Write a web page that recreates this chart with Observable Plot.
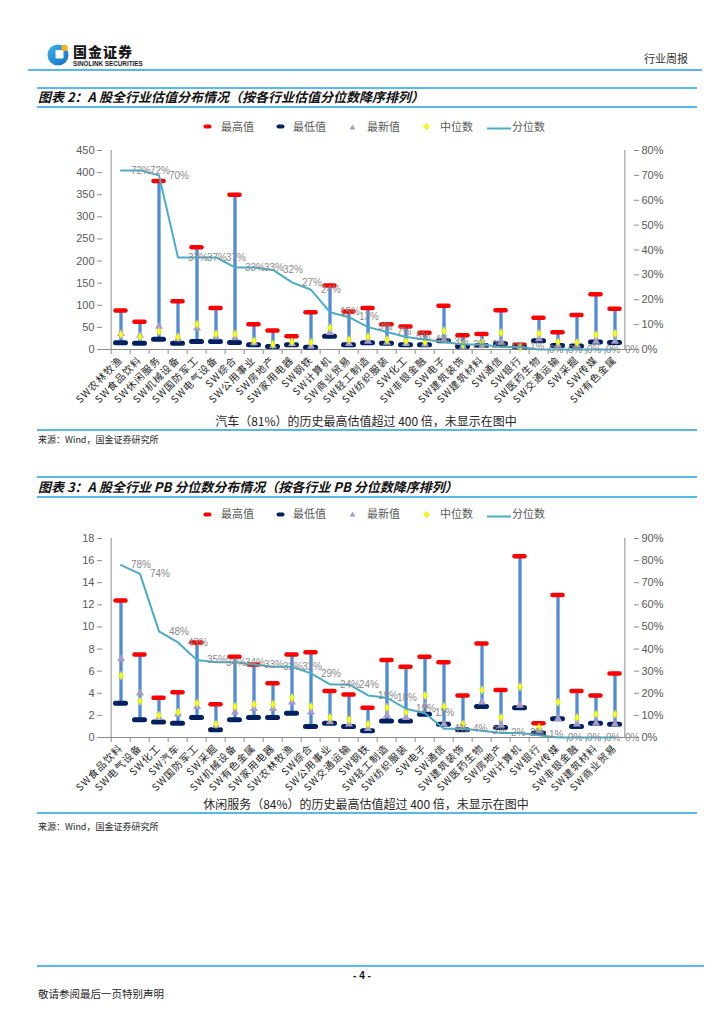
<!DOCTYPE html>
<html><head><meta charset="utf-8">
<script src="https://cdn.jsdelivr.net/npm/d3@7"></script>
<script src="https://cdn.jsdelivr.net/npm/@observablehq/plot@0.6"></script>
<style>
body{margin:0;background:#fff;width:724px;height:1024px;position:relative;overflow:hidden;font-family:"Liberation Sans","Noto Sans CJK SC",sans-serif;}
.abs{position:absolute;white-space:nowrap;}
.hl{position:absolute;height:2px;background:#56b9ea;}
.title{position:absolute;font-family:"Noto Sans CJK SC","Liberation Sans",sans-serif;font-weight:bold;font-style:italic;font-size:13px;color:#111;white-space:nowrap;line-height:1;}
.lg{position:absolute;font-size:11px;color:#595959;font-family:"Noto Sans CJK SC","Liberation Sans",sans-serif;line-height:1;white-space:nowrap;}
.note{position:absolute;font-size:12px;color:#262626;font-family:"Noto Sans CJK SC","Liberation Sans",sans-serif;white-space:nowrap;line-height:1;transform:translateX(-50%);}
.src{position:absolute;font-size:9px;color:#262626;font-family:"Noto Sans CJK SC","Liberation Sans",sans-serif;white-space:nowrap;line-height:1;}
.chart{position:absolute;}
.chart svg{position:absolute;left:0;top:0;overflow:visible;}
g[aria-label="x-axis tick label"] text{letter-spacing:1px;}
</style></head><body>
<script>
// ---------- Chart 1: PE valuation distribution ----------
const cats1 = ["SW农林牧渔","SW食品饮料","SW休闲服务","SW机械设备","SW国防军工","SW电气设备","SW综合","SW公用事业","SW房地产","SW家用电器","SW钢铁","SW计算机","SW商业贸易","SW轻工制造","SW纺织服装","SW化工","SW非银金融","SW电子","SW建筑装饰","SW建筑材料","SW通信","SW银行","SW医药生物","SW交通运输","SW采掘","SW传媒","SW有色金属"];
const max1    = [88,63,381,109,231,94,350,57,43,30,84,145,86,94,57,52,38,99,32,35,89,11,72,39,78,125,92];
const min1    = [15,14,23,14,18,18,16,11,7,11,5,30,11,15,14,11,11,20,7,9,13,5,20,9,8,17,16];
const latest1 = [36,32,52,24,48,28,26,15,8,13,7,38,13,18,16,13,12,22,7,8,16,5,24,9,9,18,18];
const median1 = [34,29,41,28,57,35,35,19,12,17,16,49,22,29,22,19,17,42,11,15,38,5,36,17,15,33,36];
const pct1    = [72,72,70,37,37,37,33,33,32,27,24,15,13,9,7,5,4,3,2,2,1,1,0,0,0,0,0];
const yTicks1 = [0,50,100,150,200,250,300,350,400,450];
const pTicks1 = [0,10,20,30,40,50,60,70,80];

// ---------- Chart 2: PB percentile distribution ----------
const cats2 = ["SW食品饮料","SW电气设备","SW化工","SW汽车","SW国防军工","SW采掘","SW机械设备","SW有色金属","SW家用电器","SW农林牧渔","SW综合","SW公用事业","SW交通运输","SW钢铁","SW轻工制造","SW纺织服装","SW电子","SW通信","SW建筑装饰","SW医药生物","SW房地产","SW计算机","SW银行","SW传媒","SW非银金融","SW建筑材料","SW商业贸易"];
const max2    = [12.4,7.5,3.6,4.1,8.6,3.0,7.3,6.6,4.9,7.5,7.7,4.2,3.9,2.7,7.0,6.4,7.3,6.8,3.8,8.5,4.3,16.4,1.3,12.9,4.2,3.8,5.8];
const min2    = [3.1,1.6,1.4,1.3,1.8,0.7,1.6,1.8,1.8,2.2,1.0,1.3,1.0,0.6,1.5,1.5,2.1,1.2,0.7,2.8,0.9,2.7,0.4,1.7,1.0,1.3,1.2];
const latest2 = [7.1,4.0,1.8,2.1,2.8,1.1,2.3,2.6,2.6,3.2,2.3,1.4,1.2,0.8,2.0,1.8,2.9,1.2,0.9,3.2,1.1,2.9,0.6,1.7,1.2,1.3,1.2];
const median2 = [5.6,3.3,2.0,2.3,3.1,1.2,2.8,3.0,3.0,3.6,2.8,1.8,1.6,1.2,2.7,2.3,3.8,2.8,1.2,4.3,1.8,4.6,0.9,3.2,1.8,2.1,2.1];
const pct2    = [78,74,48,43,35,34,34,33,32,32,29,24,24,19,18,13,11,4,4,3,2,2,1,0,0,0,0];
const yTicks2 = [0,2,4,6,8,10,12,14,16,18];
const pTicks2 = [0,10,20,30,40,50,60,70,80,90];

const legendItems = ["最高值","最低值","最新值","中位数","分位数"];

// ---------- page furniture ----------
function el(tag, cls, style, html){const e=document.createElement(tag); if(cls) e.className=cls; Object.assign(e.style, style||{}); if(html!=null) e.innerHTML=html; document.body.appendChild(e); return e;}
function hline(x1,x2,y,h){el("div","hl",{left:x1+"px",width:(x2-x1)+"px",top:y+"px",height:(h||2)+"px"});}

// logo
el("div","abs",{left:"47px",top:"42px",width:"24px",height:"24px"},
 `<svg width="24" height="24" viewBox="0 0 24 24"><defs><linearGradient id="lg1" x1="0" y1="0" x2="1" y2="1"><stop offset="0" stop-color="#3fb2ec"/><stop offset="1" stop-color="#1470c0"/></linearGradient></defs>
 <circle cx="11" cy="13" r="10.5" fill="url(#lg1)"/><rect x="8.5" y="8" width="8" height="8.5" rx="1.2" fill="#fff"/><circle cx="17.5" cy="6" r="3.2" fill="#f5b21b"/></svg>`);
el("div","abs",{left:"73px",top:"44px",fontFamily:"'Noto Sans CJK SC',sans-serif",fontWeight:"900",fontSize:"14px",lineHeight:"1",color:"#1a1a1a",letterSpacing:"1px"},"国金证券");
el("div","abs",{left:"73px",top:"60.5px",fontFamily:"'Liberation Sans',sans-serif",fontWeight:"bold",fontSize:"6.3px",lineHeight:"1",color:"#1a1a1a"},"SINOLINK SECURITIES");
el("div","abs",{right:"36px",top:"53px",fontFamily:"'Noto Sans CJK SC',sans-serif",fontSize:"11px",lineHeight:"1",color:"#333"},"行业周报");
hline(28,702,69);

// legend builder
function legend(y){
  const items=[
    {sx:203,tx:221,svg:`<svg width="9" height="5"><rect x="0.5" y="0.5" width="8" height="4" rx="2" fill="#ff0000"/></svg>`,w:9,h:5},
    {sx:276,tx:293,svg:`<svg width="9" height="5"><rect x="0.5" y="0.5" width="8" height="4" rx="2" fill="#002060"/></svg>`,w:9,h:5},
    {sx:349,tx:367,svg:`<svg width="7" height="6"><path d="M3.5,0.5L6.5,5.5L0.5,5.5Z" fill="#a89bc9"/></svg>`,w:7,h:6},
    {sx:423,tx:440,svg:`<svg width="7" height="7"><path d="M3.5,0.3L6.7,3.5L3.5,6.7L0.3,3.5Z" fill="#ffff00" stroke="#b5d96a" stroke-width="0.6"/></svg>`,w:7,h:7},
    {sx:487,tx:512,svg:`<svg width="24" height="3"><line x1="0" y1="1.5" x2="24" y2="1.5" stroke="#4bacc6" stroke-width="2"/></svg>`,w:24,h:3}
  ];
  items.forEach((it,i)=>{
    el("div","abs",{left:it.sx+"px",top:(y-it.h/2)+"px",lineHeight:"0"},it.svg);
    el("div","lg",{left:it.tx+"px",top:(y-6)+"px"},legendItems[i]);
  });
}

// ---------- chart builder (two overlaid Plot SVGs sharing the x band scale) ----------
function chart(top, cats, maxV, minV, latV, medV, pctV, yTicks, pTicks){
  const data = cats.map((c,i)=>({cat:c, max:maxV[i], min:minV[i], lat:latV[i], med:medV[i], pct:pctV[i]}));
  const W=660, H=275, mL=72, mR=57, mT=10, mB=66;
  const bw=(W-mL-mR)/cats.length;
  const font="'Liberation Sans','Noto Sans CJK SC',sans-serif";
  const common={width:W,height:H,marginLeft:mL,marginRight:mR,marginTop:mT,marginBottom:mB,
    style:{background:"transparent",fontFamily:font,overflow:"visible"}};
  const p1=Plot.plot({...common,
    x:{type:"band",domain:cats,padding:0,label:null},
    y:{domain:[yTicks[0],yTicks[yTicks.length-1]],label:null},
    marks:[
      Plot.ruleY([0],{stroke:"#8c8c8c"}),
      Plot.ruleX([cats[0]],{dx:-bw/2,stroke:"#8c8c8c"}),
      Plot.axisY({ticks:yTicks,tickSize:5,tickPadding:3,fontSize:11,fill:"#595959",stroke:"#8c8c8c",label:null}),
      Plot.axisX({tickSize:5,dx:-bw/2,tickFormat:()=>"",stroke:"#8c8c8c",label:null}),
      Plot.axisX({tickSize:0,tickPadding:9,tickRotate:-45,fontSize:10,fill:"#262626",label:null,fontFamily:"'Noto Sans CJK SC',sans-serif"}),
      Plot.ruleX(data,{x:"cat",y1:"min",y2:"max",stroke:"#4f8bd6",strokeWidth:3.3}),
      Plot.tickY(data,{x:"cat",y:"max",stroke:"#ff0000",strokeWidth:4.5,strokeLinecap:"round",inset:4.5}),
      Plot.tickY(data,{x:"cat",y:"min",stroke:"#002060",strokeWidth:5,strokeLinecap:"round",inset:4.5}),
      Plot.dot(data,{x:"cat",y:"lat",symbol:"triangle",r:3,fill:"#a89bc9"}),
      Plot.dot(data,{x:"cat",y:"med",symbol:"diamond",r:2.6,fill:"#ffff00",stroke:"#b5d96a",strokeWidth:0.6})
    ]});
  const p2=Plot.plot({...common,
    x:{type:"band",domain:cats,padding:0,axis:null,label:null},
    y:{domain:[pTicks[0],pTicks[pTicks.length-1]],label:null},
    marks:[
      Plot.ruleX([cats[cats.length-1]],{dx:bw/2,stroke:"#8c8c8c"}),
      Plot.axisY({anchor:"right",ticks:pTicks,tickFormat:d=>d+"%",tickSize:5,tickPadding:3,fontSize:11,fill:"#595959",stroke:"#8c8c8c",label:null}),
      Plot.line(data,{x:"cat",y:"pct",stroke:"#4bacc6",strokeWidth:2}),
      Plot.text(data,{x:"cat",y:"pct",text:d=>d.pct+"%",dx:10,textAnchor:"start",fill:"#8a8a8a",fontSize:10})
    ]});
  const box=el("div","chart",{left:"30px",top:top+"px",width:W+"px",height:H+"px"});
  box.appendChild(p1); box.appendChild(p2);
}

// ---------- section 1 ----------
hline(37,697,87);
el("div","title",{left:"38px",top:"90px"},"图表 2：A 股全行业估值分布情况（按各行业估值分位数降序排列）");
hline(37,697,106);
legend(126.5);
chart(140, cats1, max1, min1, latest1, median1, pct1, yTicks1, pTicks1);
el("div","note",{left:"366px",top:"415px"},"汽车（81%）的历史最高估值超过 400 倍，未显示在图中");
hline(37,697,429);
el("div","src",{left:"38px",top:"435px"},"来源：Wind，国金证券研究所");

// ---------- section 2 ----------
hline(37,697,476);
el("div","title",{left:"38px",top:"480px"},"图表 3：A 股全行业 PB 分位数分布情况（按各行业 PB 分位数降序排列）");
hline(37,697,496);
legend(514);
chart(528, cats2, max2, min2, latest2, median2, pct2, yTicks2, pTicks2);
el("div","note",{left:"366px",top:"798px"},"休闲服务（84%）的历史最高估值超过 400 倍，未显示在图中");
hline(37,697,812);
el("div","src",{left:"38px",top:"822px"},"来源：Wind，国金证券研究所");

// ---------- footer ----------
hline(37,704,965);
el("div","abs",{left:"362px",top:"971px",transform:"translateX(-50%)",fontWeight:"bold",fontSize:"10px",lineHeight:"1",color:"#111"},"- 4 -");
el("div","abs",{left:"38px",top:"989px",fontFamily:"'Noto Sans CJK SC',sans-serif",fontSize:"10.5px",lineHeight:"1",color:"#262626"},"敬请参阅最后一页特别声明");
</script>
</body></html>
